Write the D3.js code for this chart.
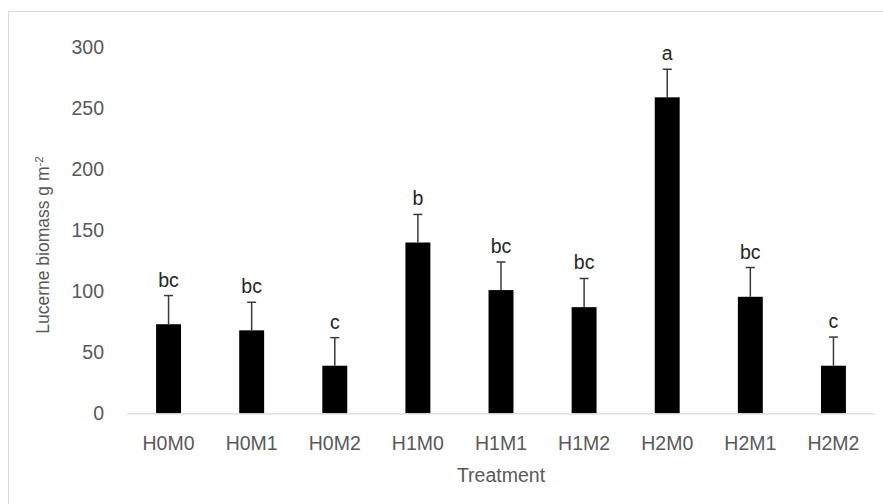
<!DOCTYPE html>
<html>
<head>
<meta charset="utf-8">
<script src="https://cdn.jsdelivr.net/npm/d3@7"></script>
<style>
  html, body { margin: 0; padding: 0; background: #fff; }
  svg { display: block; font-family: "Liberation Sans", Arial, sans-serif; }
</style>
</head>
<body>
<svg id="chart" width="883" height="504"></svg>
<script>
const categories = ["H0M0", "H0M1", "H0M2", "H1M0", "H1M1", "H1M2", "H2M0", "H2M1", "H2M2"];
const means = [73, 68, 39, 140, 101, 87, 259, 95.5, 39];
const errors = [23.5, 23, 23, 23, 23, 23.5, 23, 24, 23.5];
const letters = ["bc", "bc", "c", "b", "bc", "bc", "a", "bc", "c"];
const yTicks = [0, 50, 100, 150, 200, 250, 300];
const xTitle = "Treatment";

(function () {
const svg = d3.select("#chart");
const W = 883, H = 504;
const mLeft = 127, mRight = 875, mTop = 47.3, mBottom = 413.3;

// chart area border
svg.append("rect")
  .attr("x", 8.5).attr("y", 11.5)
  .attr("width", W + 20).attr("height", H + 20)
  .attr("fill", "none").attr("stroke", "#d9d9d9").attr("stroke-width", 1);

const x = d3.scaleBand().domain(categories).range([mLeft, mRight])
  .paddingInner(0.7).paddingOuter(0.35);
const y = d3.scaleLinear().domain([0, 300]).range([mBottom, mTop]);

// y axis
const yAxis = svg.append("g").attr("transform", `translate(${mLeft},0)`)
  .call(d3.axisLeft(y).tickValues(yTicks).tickSize(0).tickPadding(23));
yAxis.select(".domain").remove();
yAxis.selectAll("text").attr("font-size", "19.5px").attr("fill", "#595959")
  .attr("font-family", "Liberation Sans, Arial, sans-serif");

// bars
svg.append("g").selectAll("rect").data(categories).join("rect")
  .attr("x", d => x(d)).attr("width", x.bandwidth())
  .attr("y", (d, i) => y(means[i]))
  .attr("height", (d, i) => y(0) - y(means[i]))
  .attr("fill", "#000");

// error bars
const eb = svg.append("g").attr("stroke", "#3a3a3a").attr("stroke-width", 1.5);
categories.forEach((c, i) => {
  const cx = x(c) + x.bandwidth() / 2;
  eb.append("line").attr("x1", cx).attr("x2", cx)
    .attr("y1", y(means[i])).attr("y2", y(means[i] + errors[i]));
  eb.append("line").attr("x1", cx - 4.5).attr("x2", cx + 4.5)
    .attr("y1", y(means[i] + errors[i])).attr("y2", y(means[i] + errors[i]));
});

// significance letters
svg.append("g").selectAll("text").data(categories).join("text")
  .attr("x", d => x(d) + x.bandwidth() / 2)
  .attr("y", (d, i) => y(means[i] + errors[i]) - 9)
  .attr("text-anchor", "middle")
  .attr("font-size", "19.5px").attr("fill", "#262626")
  .text((d, i) => letters[i]);

// x axis
const xAxis = svg.append("g").attr("transform", `translate(0,${mBottom})`)
  .call(d3.axisBottom(x).tickSize(0).tickPadding(23));
xAxis.select(".domain").attr("stroke", "#d9d9d9").attr("stroke-width", 1.2)
  .attr("d", `M${mLeft},0.5H${mRight}`);
xAxis.selectAll("text").attr("font-size", "19.5px").attr("fill", "#595959")
  .attr("font-family", "Liberation Sans, Arial, sans-serif");

// axis titles
svg.append("text")
  .attr("x", (mLeft + mRight) / 2).attr("y", 482)
  .attr("text-anchor", "middle").attr("font-size", "19.5px").attr("fill", "#595959")
  .text(xTitle);

const yt = svg.append("text")
  .attr("transform", "translate(49,245) rotate(-90)")
  .attr("text-anchor", "middle").attr("font-size", "17.5px").attr("fill", "#595959");
yt.append("tspan").text("Lucerne biomass g m");
yt.append("tspan").attr("dy", "-0.55em").attr("font-size", "11.5px").text("-2");
})();
</script>
</body>
</html>
